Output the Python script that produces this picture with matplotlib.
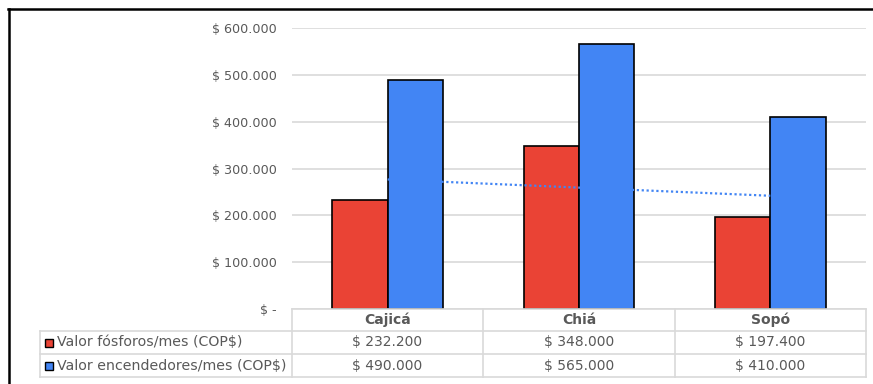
import numpy as np
import matplotlib.pyplot as plt
from matplotlib.lines import Line2D
from matplotlib.patches import Rectangle
from matplotlib.ticker import FuncFormatter

plt.rcParams['font.family'] = ['DejaVu Sans']

municipios = ['Cajicá', 'Chiá', 'Sopó']
fosforos = [232200, 348000, 197400]
encendedores = [490000, 565000, 410000]
series_names = ['Valor fósforos/mes (COP$)', 'Valor encendedores/mes (COP$)']
yticks = [0, 100000, 200000, 300000, 400000, 500000, 600000]

red = '#ea4335'
blue = '#4285f4'
grey = '#595959'
W, H = 873, 384


def fmt(v, pos=None):
    if v == 0:
        return '$ -'
    return '$ ' + f'{int(v):,}'.replace(',', '.')


fig = plt.figure(figsize=(W / 100, H / 100), dpi=100)

# plot area in pixels
x0, x1, ytop, ybot = 292, 866, 28, 309
ax = fig.add_axes([x0 / W, 1 - ybot / H, (x1 - x0) / W, (ybot - ytop) / H])
x = np.arange(1, len(municipios) + 1)
bw = 0.29
ax.bar(x - bw / 2, fosforos, bw, color=red, edgecolor='black', linewidth=1.2, zorder=3)
ax.bar(x + bw / 2, encendedores, bw, color=blue, edgecolor='black', linewidth=1.2, zorder=3)

# linear trend of the matches series
k, b = np.polyfit(x, fosforos, 1)
ax.plot(x, k * x + b, color=blue, linestyle=(0, (1, 1.2)), linewidth=1.6, zorder=4)

ax.set_xlim(0.5, 3.5)
ax.set_ylim(0, 600000)
ax.set_yticks(yticks)
ax.yaxis.set_major_formatter(FuncFormatter(fmt))
ax.set_xticks([])
ax.grid(axis='y', color='#d9d9d9', linewidth=1.2, zorder=0)
for s in ax.spines.values():
    s.set_visible(False)
ax.tick_params(axis='y', length=0, pad=11, labelsize=9.2, labelcolor=grey)

# data table below the plot
tax = fig.add_axes([0, 0, 1, 1])
tax.set_xlim(0, W)
tax.set_ylim(H, 0)
tax.axis('off')
row_y = [309, 331, 354, 377]
col_x = [x0, 483, 675, x1]
left = 40
lc = '#d9d9d9'
lw = 1.2
tax.plot([x0, x1], [row_y[0], row_y[0]], color=lc, lw=lw)
for yy in row_y[1:]:
    tax.plot([left, x1], [yy, yy], color=lc, lw=lw)
tax.plot([left, left], [row_y[1], row_y[3]], color=lc, lw=lw)
for xx in col_x:
    tax.plot([xx, xx], [row_y[0], row_y[3]], color=lc, lw=lw)

for i, name in enumerate(municipios):
    cx = (col_x[i] + col_x[i + 1]) / 2
    tax.text(cx, (row_y[0] + row_y[1]) / 2, name, ha='center', va='center',
             fontsize=10, color=grey, fontweight='bold')
    tax.text(cx, (row_y[1] + row_y[2]) / 2, fmt(fosforos[i]), ha='center', va='center',
             fontsize=10, color=grey)
    tax.text(cx, (row_y[2] + row_y[3]) / 2, fmt(encendedores[i]), ha='center', va='center',
             fontsize=10, color=grey)

for j, (name, c) in enumerate(zip(series_names, [red, blue])):
    yc = (row_y[j + 1] + row_y[j + 2]) / 2
    tax.add_patch(Rectangle((45, yc - 4), 8, 8, facecolor=c, edgecolor='black', lw=1))
    tax.text(57, yc, name, ha='left', va='center', fontsize=10.2, color=grey)

# outer frame lines (top and left)
fig.add_artist(Line2D([8 / W, 1], [1 - 8.5 / H, 1 - 8.5 / H], color='black', lw=1.8))
fig.add_artist(Line2D([8.5 / W, 8.5 / W], [0, 1 - 8.5 / H], color='black', lw=1.8))

fig.savefig('out.png', dpi=100)
